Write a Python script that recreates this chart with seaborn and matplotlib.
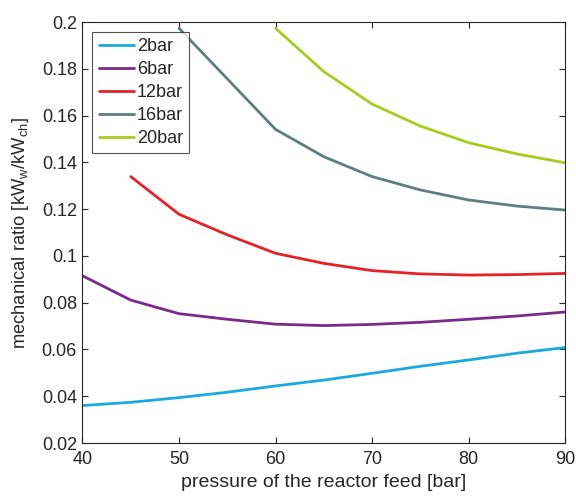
import matplotlib
matplotlib.use("Agg")
import matplotlib.pyplot as plt
import seaborn as sns
import pandas as pd

pressure = [40, 45, 50, 55, 60, 65, 70, 75, 80, 85, 90]
series_names = ["2bar", "6bar", "12bar", "16bar", "20bar"]
p_2bar = [40, 45, 50, 55, 60, 65, 70, 75, 80, 85, 90]
v_2bar = [0.0360, 0.0374, 0.0394, 0.0417, 0.0444, 0.0469, 0.0498, 0.0528, 0.0555, 0.0584, 0.0608]
p_6bar = [40, 45, 50, 55, 60, 65, 70, 75, 80, 85, 90]
v_6bar = [0.0915, 0.0811, 0.0753, 0.0729, 0.0708, 0.0702, 0.0707, 0.0716, 0.0729, 0.0743, 0.0760]
p_12bar = [45, 50, 55, 60, 65, 70, 75, 80, 85, 90]
v_12bar = [0.1339, 0.1178, 0.1090, 0.1011, 0.0968, 0.0937, 0.0923, 0.0918, 0.0920, 0.0925]
p_16bar = [50, 60, 65, 70, 75, 80, 85, 90]
v_16bar = [0.1973, 0.1541, 0.1424, 0.1339, 0.1282, 0.1239, 0.1213, 0.1196]
p_20bar = [60, 65, 70, 75, 80, 85, 90]
v_20bar = [0.1973, 0.1788, 0.1649, 0.1555, 0.1484, 0.1436, 0.1398]
colors = ["#1AAAE0", "#7A2A8D", "#E5222A", "#5E7E80", "#A6CC1F"]

xs = [p_2bar, p_6bar, p_12bar, p_16bar, p_20bar]
ys = [v_2bar, v_6bar, v_12bar, v_16bar, v_20bar]
rows = []
for name, px, vy in zip(series_names, xs, ys):
    for a, b in zip(px, vy):
        rows.append({"pressure": a, "ratio": b, "series": name})
df = pd.DataFrame(rows)

sns.set_theme(style="white")
plt.rcParams["font.family"] = ["Liberation Sans", "DejaVu Sans"]
plt.rcParams["mathtext.default"] = "regular"

fig = plt.figure(figsize=(5.76, 5.0), dpi=100)
ax = fig.add_axes([0.1432, 0.114, 0.838, 0.842])
sns.lineplot(data=df, x="pressure", y="ratio", hue="series", hue_order=series_names,
             palette=colors, linewidth=2.0, ax=ax, sort=True, estimator=None)

ax.set_xlim(40, 90)
ax.set_ylim(0.02, 0.2)
ax.set_xticks([40, 50, 60, 70, 80, 90])
ax.set_yticks([0.02, 0.04, 0.06, 0.08, 0.1, 0.12, 0.14, 0.16, 0.18, 0.2])
ax.set_yticklabels(["0.02", "0.04", "0.06", "0.08", "0.1", "0.12", "0.14", "0.16", "0.18", "0.2"])
ax.tick_params(direction="in", length=4, width=0.8, colors="#262626", labelsize=13,
               top=True, right=True, bottom=True, left=True, labelcolor="#262626")
ax.tick_params(axis="x", pad=6)
ax.tick_params(axis="y", pad=4)
for s in ax.spines.values():
    s.set_color("#262626")
    s.set_linewidth(0.8)
ax.set_xlabel("pressure of the reactor feed [bar]", fontsize=14, color="#262626", labelpad=4)
ax.set_ylabel("mechanical ratio [kW$_{w}$/kW$_{ch}$]", fontsize=13.2, color="#262626")
ax.yaxis.set_label_coords(-0.106, 0.5)

leg = ax.legend(loc="upper left", fontsize=13, frameon=True, fancybox=False,
                handlelength=1.95, handletextpad=0.15, borderpad=0.35, labelspacing=0.33,
                borderaxespad=0.55)
leg.get_frame().set_edgecolor("#262626")
leg.get_frame().set_linewidth(0.8)
for line in leg.get_lines():
    line.set_linewidth(2.0)

fig.savefig("out.png", dpi=100)
